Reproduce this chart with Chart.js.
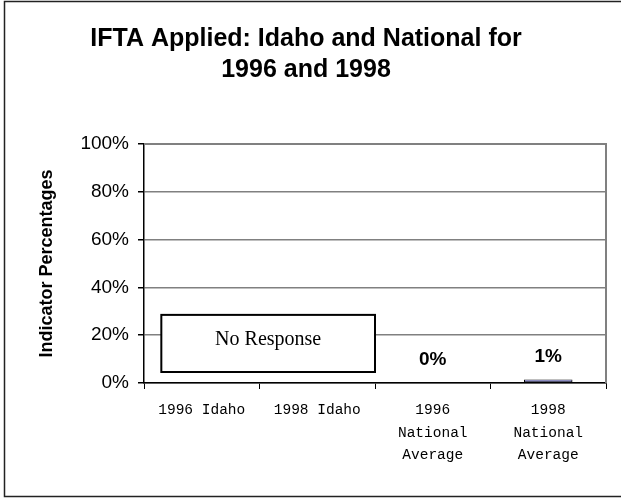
<!DOCTYPE html>
<html>
<head>
<meta charset="utf-8">
<script src="https://cdn.jsdelivr.net/npm/chart.js@4/dist/chart.umd.min.js"></script>
<style>
  body { margin: 0; background: #fff; }
  canvas { display: block; }
</style>
</head>
<body>
<canvas id="iftaChart" width="621" height="498"></canvas>
<script>
// chart data
const categories = [
  ["1996 Idaho"],
  ["1998 Idaho"],
  ["1996", "National", "Average"],
  ["1998", "National", "Average"]
];
const appliedValues = [null, null, 0, 1.45];
const yTicks = [0, 20, 40, 60, 80, 100];
const titleLines = ["IFTA Applied: Idaho and National for", "1996 and 1998"];
const noResponseText = "No Response";
const noResponseRange = { fromCat: -0.35, toCat: 1.5, low: 4.6, high: 28.5 };

const framePlugin = {
  id: "frame",
  beforeDatasetsDraw(chart) {
    const ctx = chart.ctx;
    const a = chart.chartArea;
    ctx.save();
    ctx.strokeStyle = "#808080";
    ctx.lineWidth = 2;
    ctx.beginPath();
    ctx.moveTo(a.left, a.top);
    ctx.lineTo(a.right, a.top);
    ctx.lineTo(a.right, a.bottom);
    ctx.stroke();
    ctx.restore();
  },
  afterDraw(chart) {
    const ctx = chart.ctx;
    const x = chart.scales.x;
    const y = chart.scales.y;
    ctx.save();

    // title
    ctx.fillStyle = "#000";
    ctx.font = "bold 25px 'Liberation Sans', Arial, sans-serif";
    ctx.textAlign = "center";
    ctx.textBaseline = "middle";
    ctx.fillText(titleLines[0], 306, 39);
    ctx.fillText(titleLines[1], 306, 70);

    // no response box
    const step = x.getPixelForValue(1) - x.getPixelForValue(0);
    const x0 = x.getPixelForValue(0) + noResponseRange.fromCat * step;
    const x1 = x.getPixelForValue(0) + noResponseRange.toCat * step;
    const y0 = y.getPixelForValue(noResponseRange.high);
    const y1 = y.getPixelForValue(noResponseRange.low);
    ctx.fillStyle = "#fff";
    ctx.fillRect(x0, y0, x1 - x0, y1 - y0);
    ctx.strokeStyle = "#000";
    ctx.lineWidth = 2;
    ctx.strokeRect(x0, y0, x1 - x0, y1 - y0);
    ctx.fillStyle = "#000";
    ctx.font = "20px 'Liberation Serif', 'Times New Roman', serif";
    ctx.fillText(noResponseText, (x0 + x1) / 2, y0 + (y1 - y0) * 0.44);

    // value labels above bars
    const meta = chart.getDatasetMeta(0);
    ctx.font = "bold 19px 'Liberation Sans', Arial, sans-serif";
    ctx.textBaseline = "alphabetic";
    meta.data.forEach(function (bar, i) {
      const v = appliedValues[i];
      if (v === null) return;
      ctx.fillText(Math.round(v) + "%", bar.x, bar.y - 18);
    });

    // outer border
    ctx.strokeStyle = "#222";
    ctx.lineWidth = 1.5;
    ctx.strokeRect(4.5, 1.5, 700, 495);
    ctx.restore();
  }
};

new Chart("iftaChart", {
  type: "bar",
  data: {
    labels: categories,
    datasets: [{
      data: appliedValues,
      backgroundColor: "#9999ff",
      borderColor: "#000",
      borderWidth: 1,
      borderSkipped: false,
      barPercentage: 0.42,
      categoryPercentage: 1
    }]
  },
  options: {
    responsive: false,
    animation: false,
    layout: { padding: { top: 144, left: 36, right: 15, bottom: 10 } },
    plugins: {
      legend: { display: false },
      tooltip: { enabled: false },
      title: { display: false }
    },
    scales: {
      x: {
        grid: { drawOnChartArea: false, drawTicks: true, tickLength: 6, color: "#000", offset: true },
        border: { color: "#000", width: 1.5 },
        ticks: {
          color: "#000",
          padding: 10,
          maxRotation: 0,
          autoSkip: false,
          font: { family: "'Liberation Mono', 'Courier New', monospace", size: 14.5, lineHeight: 1.55 }
        },
        afterFit(scale) { scale.height = 498 - 383 - 10; }
      },
      y: {
        min: 0,
        max: 100,
        afterBuildTicks(scale) { scale.ticks = yTicks.map(v => ({ value: v })); },
        grid: { color: "#808080", lineWidth: 1.5, tickLength: 6, tickColor: "#000" },
        border: { color: "#000", width: 1.5 },
        ticks: {
          color: "#000",
          padding: 9,
          font: { family: "'Liberation Sans', Arial, sans-serif", size: 19 },
          callback: v => v + "%"
        },
        title: {
          display: true,
          text: "Indicator Percentages",
          color: "#000",
          padding: 0,
          font: { family: "'Liberation Sans', Arial, sans-serif", size: 18, weight: "bold" }
        },
        afterFit(scale) { scale.width = 144 - 36; }
      }
    }
  },
  plugins: [framePlugin]
});
</script>
</body>
</html>
